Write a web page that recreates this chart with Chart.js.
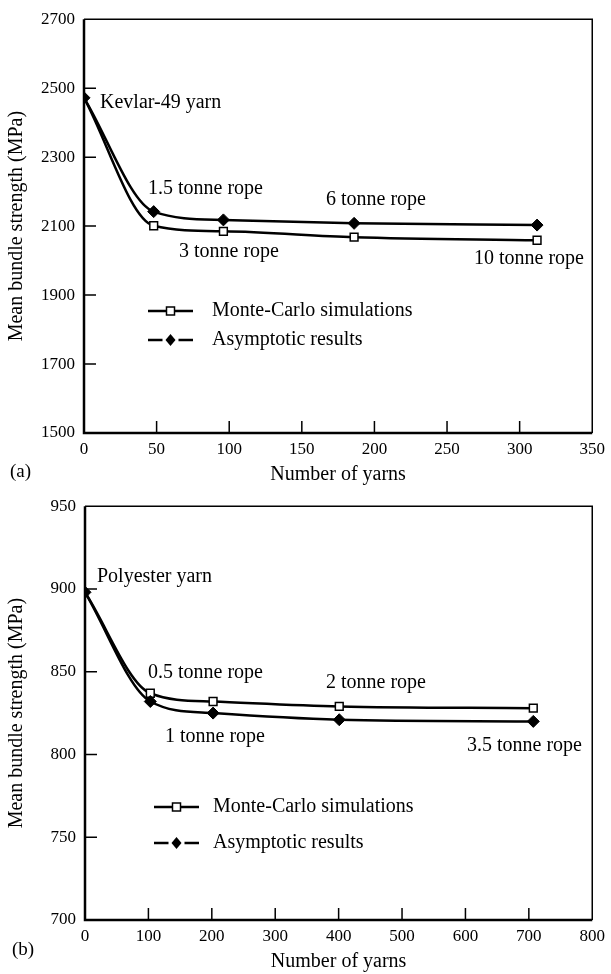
<!DOCTYPE html>
<html>
<head>
<meta charset="utf-8">
<script src="https://cdn.jsdelivr.net/npm/chart.js@4.4.1/dist/chart.umd.min.js"></script>
<style>
    html, body { margin: 0; padding: 0; background: #fff; }
    .panel { position: absolute; left: 0; width: 611px; height: 487px; }
</style>
</head>
<body>
<div class="panel" style="top:0"><canvas id="chart-a" width="611" height="487"></canvas></div>
<div class="panel" style="top:487px"><canvas id="chart-b" width="611" height="487"></canvas></div>
<script>
// (a) Kevlar-49
var kevlarYarns = [0, 48, 96, 186, 312];
var kevlarMonteCarlo = [2472, 2101, 2085, 2068, 2059];
var kevlarAsymptotic = [2472, 2142, 2118, 2108, 2103];
var kevlarTicksX = [0, 50, 100, 150, 200, 250, 300, 350];
var kevlarTicksY = [1500, 1700, 1900, 2100, 2300, 2500, 2700];

// (b) Polyester
var polyYarns = [0, 103, 202, 401, 707];
var polyMonteCarlo = [898, 837, 832, 829, 828];
var polyAsymptotic = [898, 832, 825, 821, 820];
var polyTicksX = [0, 100, 200, 300, 400, 500, 600, 700, 800];
var polyTicksY = [700, 750, 800, 850, 900, 950];

var SERIF = '"Liberation Serif", "Times New Roman", serif';

function toPoints(xs, ys) {
    var pts = [];
    for (var i = 0; i < xs.length; i++) pts.push({ x: xs[i], y: ys[i] });
    return pts;
}

// Frame, inward ticks, in-plot labels and the hand-made legend
var paperPlugin = {
    id: 'paper',
    afterDraw: function(chart, args, opts) {
        var ctx = chart.ctx;
        var a = chart.chartArea;
        var xs = chart.scales.x, ys = chart.scales.y;
        ctx.save();
        ctx.strokeStyle = '#000';

        // thin top/right, heavy left/bottom
        ctx.lineWidth = 1.5;
        ctx.beginPath();
        ctx.moveTo(a.left, a.top); ctx.lineTo(a.right, a.top); ctx.lineTo(a.right, a.bottom);
        ctx.stroke();
        ctx.lineWidth = 2.5;
        ctx.beginPath();
        ctx.moveTo(a.left, a.top); ctx.lineTo(a.left, a.bottom); ctx.lineTo(a.right, a.bottom);
        ctx.stroke();

        ctx.lineWidth = 1.5;
        ctx.beginPath();
        xs.ticks.forEach(function(t) {
            if (t.value === xs.min || t.value === xs.max) return;
            var px = xs.getPixelForValue(t.value);
            ctx.moveTo(px, a.bottom); ctx.lineTo(px, a.bottom - 12);
        });
        ys.ticks.forEach(function(t) {
            if (t.value === ys.min || t.value === ys.max) return;
            var py = ys.getPixelForValue(t.value);
            ctx.moveTo(a.left, py); ctx.lineTo(a.left + 12, py);
        });
        ctx.stroke();

        ctx.fillStyle = '#000';
        ctx.font = '20px ' + SERIF;
        ctx.textBaseline = 'middle';
        (opts.notes || []).forEach(function(n) {
            ctx.textAlign = n[3] || 'left';
            ctx.fillText(n[0], n[1], n[2]);
        });

        // legend
        var lg = opts.legend;
        if (lg) {
            var mid = (lg.x1 + lg.x2) / 2;
            // Monte-Carlo: solid line, open square
            ctx.lineWidth = 2.5;
            ctx.beginPath();
            ctx.moveTo(lg.x1, lg.y1); ctx.lineTo(lg.x2, lg.y1);
            ctx.stroke();
            ctx.fillStyle = '#fff';
            ctx.lineWidth = 1.5;
            ctx.fillRect(mid - 4, lg.y1 - 4, 8, 8);
            ctx.strokeRect(mid - 4, lg.y1 - 4, 8, 8);
            // Asymptotic: broken line, filled diamond
            ctx.lineWidth = 2.5;
            ctx.beginPath();
            ctx.moveTo(lg.x1, lg.y2); ctx.lineTo(mid - 8, lg.y2);
            ctx.moveTo(mid + 8, lg.y2); ctx.lineTo(lg.x2, lg.y2);
            ctx.stroke();
            ctx.fillStyle = '#000';
            ctx.beginPath();
            ctx.moveTo(mid, lg.y2 - 6); ctx.lineTo(mid + 5, lg.y2);
            ctx.lineTo(mid, lg.y2 + 6); ctx.lineTo(mid - 5, lg.y2);
            ctx.closePath();
            ctx.fill();
            ctx.textAlign = 'left';
            ctx.fillText('Monte-Carlo simulations', lg.tx, lg.y1);
            ctx.fillText('Asymptotic results', lg.tx, lg.y2);
        }

        if (opts.panel) {
            ctx.textAlign = 'left';
            ctx.font = '19px ' + SERIF;
            ctx.fillText(opts.panel[0], opts.panel[1], opts.panel[2]);
        }
        ctx.restore();
    }
};

function makeChart(id, cfg) {
    var canvas = document.getElementById(id);
    return new Chart(canvas.getContext('2d'), {
        type: 'line',
        data: {
            datasets: [
                {
                    label: 'Asymptotic results',
                    data: toPoints(cfg.yarns, cfg.asym),
                    borderColor: '#000',
                    borderWidth: 2.5,
                    pointStyle: 'rectRot',
                    pointRadius: 6,
                    pointBackgroundColor: '#000',
                    pointBorderColor: '#000',
                    pointBorderWidth: 1,
                    cubicInterpolationMode: 'monotone'
                },
                {
                    label: 'Monte-Carlo simulations',
                    data: toPoints(cfg.yarns, cfg.mc),
                    borderColor: '#000',
                    borderWidth: 2.5,
                    pointStyle: 'rect',
                    pointRadius: [0, 5.5, 5.5, 5.5, 5.5],
                    pointBackgroundColor: '#fff',
                    pointBorderColor: '#000',
                    pointBorderWidth: 1.5,
                    cubicInterpolationMode: 'monotone'
                }
            ]
        },
        options: {
            responsive: false,
            animation: false,
            layout: { padding: { top: cfg.padTop, right: cfg.padRight, left: 0, bottom: 0 } },
            scales: {
                x: {
                    type: 'linear',
                    min: cfg.ticksX[0],
                    max: cfg.ticksX[cfg.ticksX.length - 1],
                    afterBuildTicks: function(s) { s.ticks = cfg.ticksX.map(function(v) { return { value: v }; }); },
                    grid: { display: false, drawTicks: false },
                    border: { display: false },
                    ticks: { color: '#000', padding: 6, maxRotation: 0, font: { family: SERIF, size: 17 },
                        callback: function(v) { return String(v); } },
                    title: { display: true, text: 'Number of yarns', color: '#000', padding: { top: 0, bottom: 0 }, font: { family: SERIF, size: 20 } },
                    afterFit: function(s) { s.height = 54; }
                },
                y: {
                    min: cfg.ticksY[0],
                    max: cfg.ticksY[cfg.ticksY.length - 1],
                    afterBuildTicks: function(s) { s.ticks = cfg.ticksY.map(function(v) { return { value: v }; }); },
                    grid: { display: false, drawTicks: false },
                    border: { display: false },
                    ticks: { color: '#000', padding: 9, font: { family: SERIF, size: 17 },
                        callback: function(v) { return String(v); } },
                    title: { display: true, text: 'Mean bundle strength (MPa)', color: '#000', padding: { top: 5, bottom: 0 }, font: { family: SERIF, size: 20 } },
                    afterFit: function(s) { s.width = cfg.left; }
                }
            },
            plugins: {
                legend: { display: false },
                tooltip: { enabled: false },
                paper: { notes: cfg.notes, legend: cfg.legend, panel: cfg.panel }
            }
        },
        plugins: [paperPlugin]
    });
}

function initCharts() {
    makeChart('chart-a', {
        yarns: kevlarYarns, mc: kevlarMonteCarlo, asym: kevlarAsymptotic,
        ticksX: kevlarTicksX, ticksY: kevlarTicksY,
        left: 84, padTop: 15, padRight: 17,
        notes: [
            ['Kevlar-49 yarn', 100, 103],
            ['1.5 tonne rope', 148, 189],
            ['6 tonne rope', 326, 200],
            ['3 tonne rope', 179, 252],
            ['10 tonne rope', 584, 259, 'right']
        ],
        legend: { x1: 148, x2: 193, tx: 212, y1: 311, y2: 340 },
        panel: ['(a)', 10, 472]
    });
    makeChart('chart-b', {
        yarns: polyYarns, mc: polyMonteCarlo, asym: polyAsymptotic,
        ticksX: polyTicksX, ticksY: polyTicksY,
        left: 85, padTop: 17, padRight: 14,
        notes: [
            ['Polyester yarn', 97, 90],
            ['0.5 tonne rope', 148, 186],
            ['2 tonne rope', 326, 196],
            ['1 tonne rope', 165, 250],
            ['3.5 tonne rope', 582, 259, 'right']
        ],
        legend: { x1: 154, x2: 199, tx: 213, y1: 320, y2: 356 },
        panel: ['(b)', 12, 463]
    });
}

if (document.readyState === 'loading') {
    document.addEventListener('DOMContentLoaded', initCharts);
} else {
    initCharts();
}
</script>
</body>
</html>
